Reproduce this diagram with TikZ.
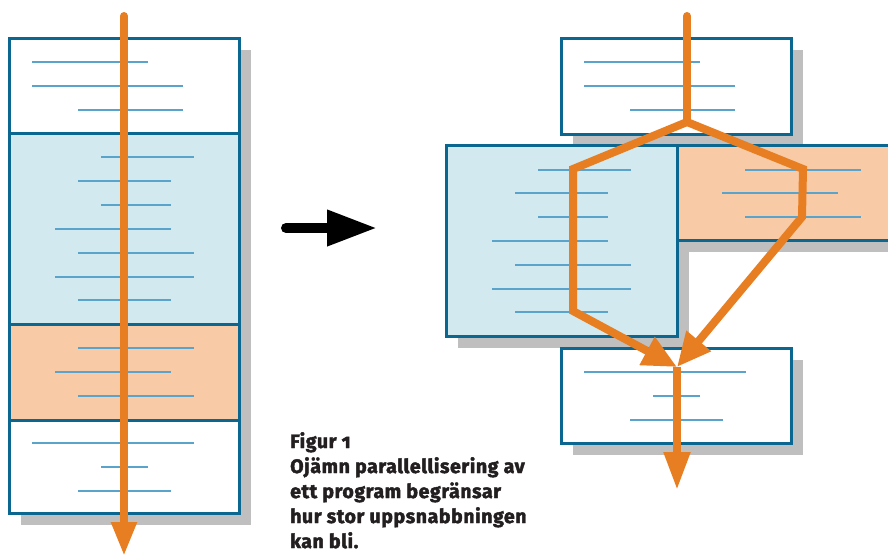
\documentclass[tikz,border=0pt]{standalone}
\usepackage{fontspec}
\setmainfont{Fira Sans}[RawFeature={+onum}, BoldFeatures={FakeBold=2.2, LetterSpace=3}]
\usetikzlibrary{positioning,arrows.meta,shadows}

\definecolor{boxblue}{HTML}{0B6690}
\definecolor{lineblue}{HTML}{5AA4CB}
\definecolor{paleblue}{HTML}{D2E9EF}
\definecolor{paleorange}{HTML}{F8CBA6}
\definecolor{flowcol}{HTML}{E87E22}
\definecolor{shadowgray}{HTML}{BFBFBF}
\definecolor{captioncol}{HTML}{231F20}

\tikzset{
  block/.style = {draw=boxblue, line width=3pt, inner sep=0pt, outer sep=0pt,
    minimum width=230pt, anchor=north west,
    drop shadow={shadow xshift=12pt, shadow yshift=-12pt, fill=shadowgray, opacity=1}},
  txt/.style = {draw=lineblue, line width=1.6pt},
  flow/.style = {draw=flowcol, line width=8pt, line cap=round},
}

\begin{document}
\begin{tikzpicture}[x=1pt, y=-1pt]
  \clip (0,0) rectangle (888,558);
  \fill[white] (0,0) rectangle (888,558);

  % left: the whole program, run in sequence
  \node[block, fill=white, minimum height=95pt] (s1) at (9,38) {};
  \node[block, fill=paleblue, minimum height=191pt] (s2) at (s1.south west) {};
  \node[block, fill=paleorange, minimum height=96pt] (s3) at (s2.south west) {};
  \node[block, fill=white, minimum height=93pt] (s4) at (s3.south west) {};

  \foreach \y/\a/\b in {62/32/148, 86/32/183, 110/78/183,
      157/101/194, 181/78/171, 205/101/171, 229/55/171, 253/78/194, 277/55/194, 300/78/171,
      348/78/194, 372/55/171, 396/78/194,
      443/32/194, 467/101/148, 491/78/171}
    \draw[txt] (\a,\y) -- (\b,\y);

  \coordinate (lstart) at (124,16);
  \coordinate (lend) at (124,556);
  \draw[flow, -{Triangle[width=24pt, length=34pt]}] (lstart) -- (lend);

  % middle arrow
  \coordinate (ma) at (286,228);
  \coordinate (mb) at (377,228);
  \draw[line width=10pt, line cap=round, -{Triangle[width=34pt, length=50pt]}] (ma) -- (mb);

  % right: the middle part split in two
  \node[block, fill=white, minimum height=96pt] (t1) at (561,38) {};
  \node[block, fill=paleblue, minimum width=231pt, minimum height=191pt] (pa) at (446,145) {};
  \node[block, fill=paleorange, minimum height=95pt] (pb) at (pa.north east) {};
  \node[block, fill=white, minimum height=95pt] (t2) at (561,348) {};

  \foreach \y/\a/\b in {62/584/700, 86/584/735, 110/630/735,
      170/538/631, 193/515/608, 217/538/608, 241/492/608, 265/515/631, 289/492/631, 312/515/608,
      170/745/861, 193/722/838, 217/745/861,
      372/584/746, 396/653/700, 420/630/723}
    \draw[txt] (\a,\y) -- (\b,\y);

  \coordinate (rstart) at (687,16);
  \coordinate (fork) at (687,122);
  \coordinate (l1) at (573,169);
  \coordinate (l2) at (573,311);
  \coordinate (r1) at (803,169);
  \coordinate (r2) at (802,217);
  \coordinate (join) at (677,367);
  \coordinate (rend) at (677,490);
  \draw[flow] (rstart) -- (fork);
  \draw[flow, line cap=butt, -{Triangle[width=30pt, length=34pt]}] (fork) -- (l1) -- (l2) -- (join);
  \draw[flow, line cap=butt, -{Triangle[width=30pt, length=34pt]}] (fork) -- (r1) -- (r2) -- (join);
  \draw[flow, line cap=butt, -{Triangle[width=25pt, length=38pt]}] (join) -- (rend);

  % caption
  \node[anchor=north west, align=left, inner sep=0pt, text=captioncol,
    font=\fontsize{19.5pt}{25pt}\selectfont\bfseries] (cap) at (290,432)
    {Figur 1\\Ojämn parallellisering av\\ett program begränsar\\hur stor uppsnabbningen\\kan bli.};
\end{tikzpicture}
\end{document}
